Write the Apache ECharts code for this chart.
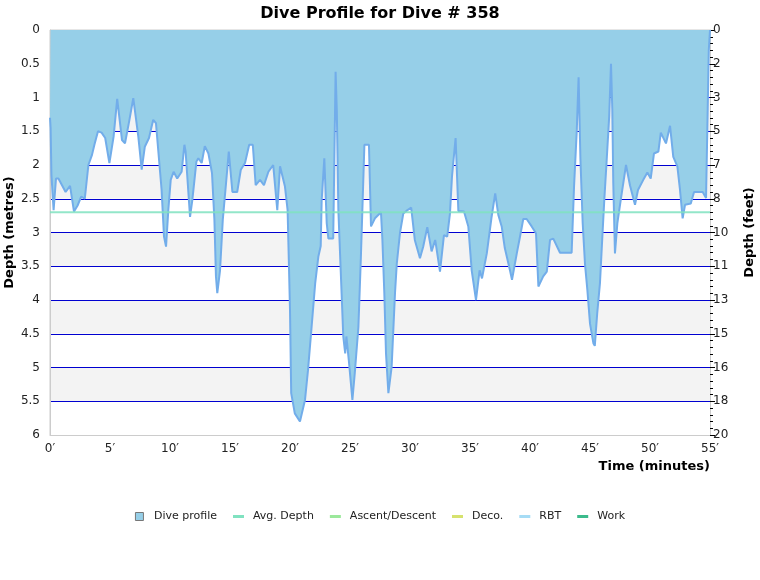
<!DOCTYPE html>
<html>
<head>
<meta charset="utf-8">
<script src="https://cdn.jsdelivr.net/npm/echarts@6/dist/echarts.min.js"></script>
<style>
  html, body { margin: 0; padding: 0; background: #fff; }
  #chart { width: 760px; height: 580px; }
</style>
</head>
<body>
<div id="chart"></div>
<script>
// time in minutes, depth in metres
const times = [
  0, 0.05, 0.12, 0.3, 0.5, 0.7, 1.0, 1.3, 1.67, 2.0, 2.3, 2.6, 2.9, 3.2, 3.5, 3.7, 4.0, 4.3, 4.6, 4.95,
  5.3, 5.6, 6.0, 6.25, 6.6, 6.94, 7.36, 7.64, 7.9, 8.25, 8.6, 8.83, 9.3, 9.5, 9.67, 9.86,
  10.06, 10.3, 10.6, 10.97, 11.2, 11.3, 11.67, 11.86, 12.2, 12.36, 12.64, 12.9, 13.2, 13.5, 13.7, 13.83, 13.94,
  14.17, 14.4, 14.67, 14.9, 15.2, 15.6, 15.9, 16.25, 16.6, 16.9, 17.14, 17.5, 17.83, 18.2, 18.6, 18.94,
  19.17, 19.58, 19.8, 19.9, 20.0, 20.1, 20.4, 20.83, 21.25, 21.5, 21.8, 22.1, 22.36, 22.56, 22.64, 22.86,
  23.06, 23.2, 23.6, 23.7, 23.8, 23.9, 24.03, 24.3, 24.44, 24.6, 24.7, 24.9, 25.2, 25.4, 25.7, 25.9,
  26.03, 26.2, 26.58, 26.75, 27.08, 27.58, 27.7, 27.86, 28.0, 28.2, 28.47, 28.75, 28.9, 29.17, 29.44, 29.7,
  30.1, 30.4, 30.83, 31.1, 31.44, 31.8, 32.1, 32.5, 32.83, 33.1, 33.33, 33.5, 33.8, 34.03, 34.5, 34.86,
  35.14, 35.5, 35.8, 36.0, 36.4, 36.8, 37.1, 37.36, 37.64, 37.9, 38.33, 38.5, 38.9, 39.17, 39.44, 39.72,
  40.14, 40.5, 40.7, 41.1, 41.4, 41.67, 41.94, 42.5, 43.47, 43.67, 43.9, 44.05, 44.2, 44.39, 44.58, 44.78,
  45.0, 45.28, 45.4, 45.6, 45.83, 46.03, 46.19, 46.39, 46.6, 46.75, 46.86, 46.94, 47.08, 47.28, 47.56,
  48.0, 48.33, 48.75, 49.0, 49.44, 49.78, 50.06, 50.33, 50.7, 50.9, 51.33, 51.67, 51.94, 52.28, 52.5,
  52.72, 52.92, 53.4, 53.67, 54.39, 54.67, 54.9, 55
];
const depths = [
  1.3, 1.45, 2.15, 2.67, 2.2, 2.2, 2.3, 2.4, 2.31, 2.69, 2.6, 2.47, 2.5, 2.0, 1.85, 1.7, 1.5, 1.52, 1.6, 1.97,
  1.58, 1.02, 1.63, 1.68, 1.35, 1.01, 1.58, 2.07, 1.73, 1.6, 1.33, 1.38, 2.37, 3.06, 3.21, 2.67,
  2.22, 2.1, 2.2, 2.1, 1.7, 1.8, 2.77, 2.52, 1.95, 1.9, 1.97, 1.72, 1.83, 2.12, 2.81, 3.65, 3.9,
  3.56, 2.81, 2.27, 1.8, 2.4, 2.4, 2.07, 1.97, 1.7, 1.7, 2.3, 2.22, 2.3, 2.1, 2.0, 2.67,
  2.02, 2.32, 2.67, 3.4, 4.15, 5.38, 5.68, 5.8, 5.48, 5.04, 4.4, 3.75, 3.36, 3.2, 2.52, 1.9,
  2.86, 3.09, 3.09, 1.88, 0.62, 1.19, 2.67, 3.9, 4.54, 4.79, 4.54, 4.89, 5.48, 5.08, 4.4, 3.4,
  2.67, 1.7, 1.7, 2.91, 2.79, 2.7, 3.11, 3.9, 4.79, 5.38, 4.99, 3.9, 3.46, 3.0, 2.72, 2.68,
  2.63, 3.11, 3.38, 3.21, 2.92, 3.28, 3.11, 3.58, 3.04, 3.06, 2.72, 2.17, 1.6, 2.68, 2.69, 2.91,
  3.56, 4.0, 3.56, 3.68, 3.31, 2.77, 2.42, 2.74, 2.91, 3.23, 3.56, 3.7, 3.31, 3.06, 2.8, 2.8,
  2.91, 3.01, 3.8, 3.65, 3.58, 3.11, 3.09, 3.3, 3.3, 2.32, 1.48, 0.7, 1.9, 2.86, 3.46, 3.85,
  4.35, 4.64, 4.68, 4.2, 3.75, 3.06, 2.52, 1.93, 1.28, 0.5, 1.19, 2.27, 3.31, 2.86, 2.52,
  2.0, 2.3, 2.59, 2.37, 2.22, 2.11, 2.2, 1.83, 1.8, 1.52, 1.68, 1.42, 1.88, 2.02, 2.37,
  2.79, 2.59, 2.57, 2.4, 2.4, 2.49, 0.3, 0
];
const avgDepth = 2.7;
const diveEnd = 55;
const legendNames = ['Dive profile', 'Avg. Depth', 'Ascent/Descent', 'Deco.', 'RBT', 'Work'];
const legendColors = ['#96cfe8', '#80e2c0', '#9be89b', '#d6e26e', '#a6dcf5', '#3cbb8c'];

const FONT = 'DejaVu Sans';
const chart = echarts.init(document.getElementById('chart'));

const profile = times.map((t, i) => [t, depths[i]]);

chart.setOption({
  animation: false,
  textStyle: { fontFamily: FONT },
  title: {
    text: 'Dive Profile for Dive # 358',
    left: 'center',
    top: 1,
    textStyle: { fontSize: 16, fontWeight: 'bold', color: '#000', fontFamily: FONT },
  },
  legend: {
    top: 506,
    left: 'center',
    itemWidth: 11,
    itemHeight: 8,
    itemGap: 16,
    textStyle: { fontSize: 11, color: '#222', padding: [0, 0, 0, 4] },
    data: legendNames.map((name, i) => i === 0
      ? { name, icon: 'path://M0,0H8V8H0Z', itemStyle: { color: legendColors[0], borderColor: '#777', borderWidth: 1 } }
      : { name, icon: 'path://M0,0H11V3H0Z', itemStyle: { color: legendColors[i] } }),
  },
  grid: {
    left: 50, right: 50, top: 30, bottom: 145,
    outerBoundsMode: 'none',
    show: true, borderColor: '#ccc', borderWidth: 1,
  },
  xAxis: {
    type: 'value',
    min: 0, max: 55, interval: 5,
    name: 'Time (minutes)',
    nameLocation: 'end',
    nameGap: 0,
    nameTextStyle: {
      fontSize: 13, fontWeight: 'bold', color: '#000',
      align: 'right', verticalAlign: 'top', padding: [25, 0, 0, 0],
    },
    axisLine: { onZero: false, lineStyle: { color: '#ccc' } },
    axisTick: { show: false },
    splitLine: { show: false },
    axisLabel: { fontSize: 12, color: '#222', margin: 8, formatter: v => v + '\u2032' },
  },
  yAxis: [{
    type: 'value',
    inverse: true,
    min: 0, max: 6, interval: 0.5,
    name: 'Depth (metres)',
    nameLocation: 'middle',
    nameGap: 34,
    nameMoveOverlap: false,
    nameTextStyle: { fontSize: 13, fontWeight: 'bold', color: '#000' },
    axisLine: { show: true, onZero: false, lineStyle: { color: '#ccc' } },
    axisTick: { show: false },
    axisLabel: { fontSize: 12, color: '#222', margin: 10 },
    splitLine: { show: true, showMinLine: false, showMaxLine: false, lineStyle: { color: '#0000d0', width: 1 } },
    splitArea: { show: true, areaStyle: { color: ['#f3f3f3', '#ffffff'] } },
  }, {
    type: 'value',
    inverse: true,
    position: 'right',
    min: 0, max: 6, interval: 0.5,
    name: 'Depth (feet)',
    nameLocation: 'middle',
    nameGap: 33,
    nameMoveOverlap: false,
    nameTextStyle: { fontSize: 13, fontWeight: 'bold', color: '#000' },
    axisLine: { show: true, onZero: false, lineStyle: { color: '#ccc' } },
    axisTick: { show: true, length: 5, lineStyle: { color: '#000' } },
    minorTick: { show: true, splitNumber: 5, length: 3, lineStyle: { color: '#000' } },
    axisLabel: { fontSize: 12, color: '#222', margin: 3, formatter: v => String(Math.round(v * 3.28084)) },
    splitLine: { show: false },
  }],
  series: [{
    name: legendNames[0],
    type: 'line',
    data: profile,
    showSymbol: false,
    symbol: 'none',
    lineStyle: { color: '#72adea', width: 2 },
    itemStyle: { color: legendColors[0] },
    areaStyle: { color: legendColors[0], opacity: 1 },
    z: 2,
  }, {
    name: legendNames[1],
    type: 'line',
    data: [[0, avgDepth], [diveEnd, avgDepth]],
    symbol: 'none',
    lineStyle: { color: legendColors[1], width: 2, opacity: 0.85 },
    itemStyle: { color: legendColors[1] },
    z: 3,
  }].concat(legendNames.slice(2).map((name, i) => ({
    name,
    type: 'line',
    data: [],
    symbol: 'none',
    lineStyle: { color: legendColors[i + 2], width: 2 },
    itemStyle: { color: legendColors[i + 2] },
  }))),
});
</script>
</body>
</html>
